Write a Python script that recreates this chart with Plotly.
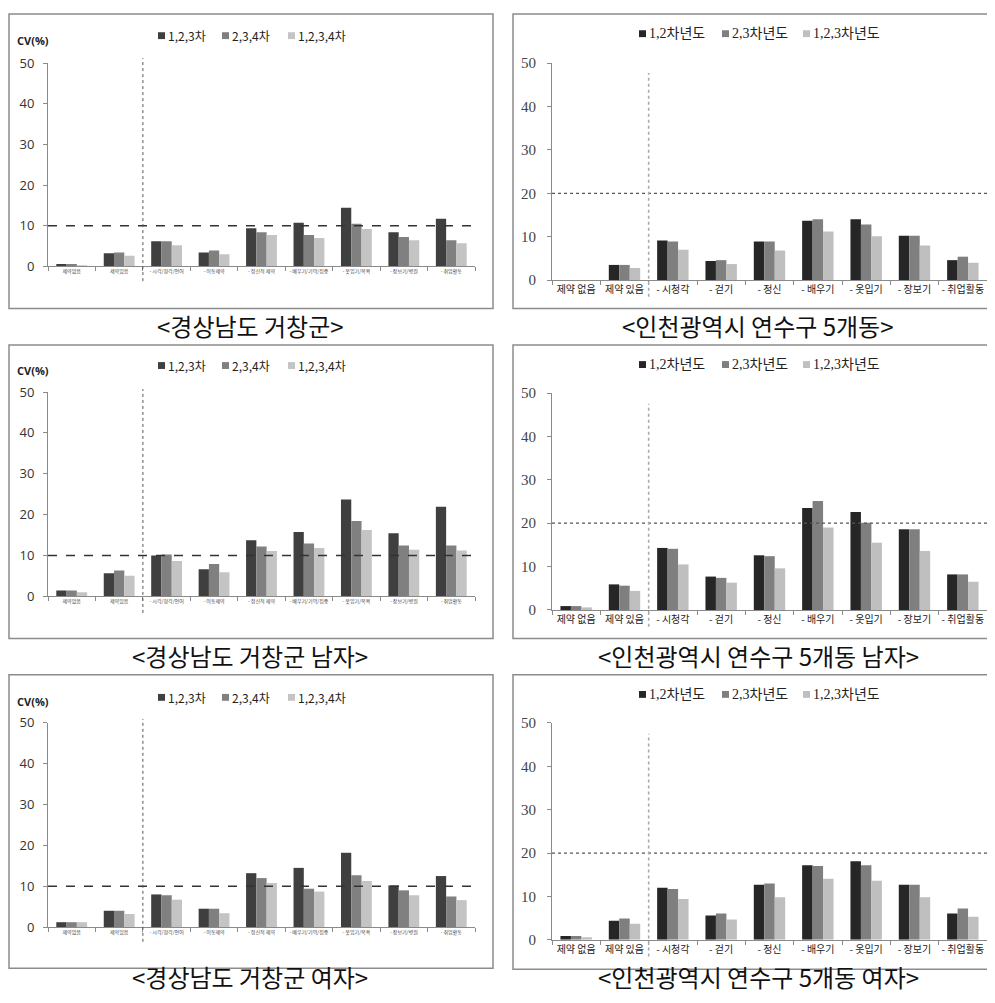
import plotly.graph_objects as go

# page body has an 8px margin: the figure is sized to fit the 995x1003 window
OFF = 8
W, H = 995 - 2 * OFF, 1003 - 2 * OFF

# ---------------- data ----------------
categories_left = ["제약없음", "제약있음", "- 시각/청각/언어", "- 이동제약", "- 정신적 제약",
                   "- 배우기/기억/집중", "- 옷입기/목욕", "- 장보기/병원", "- 취업활동"]
categories_right = ["제약 없음", "제약 있음", "- 시청각", "- 걷기", "- 정신",
                    "- 배우기", "- 옷입기", "- 장보기", "- 취업활동"]
series_left = ["1,2,3차", "2,3,4차", "1,2,3,4차"]
series_right = ["1,2차년도", "2,3차년도", "1,2,3차년도"]

# 경상남도 거창군 (전체)
gc_all_123 = [0.6, 3.2, 6.2, 3.4, 9.4, 10.7, 14.4, 8.4, 11.7]
gc_all_234 = [0.6, 3.4, 6.2, 3.9, 8.4, 7.7, 10.5, 7.2, 6.4]
gc_all_1234 = [0.3, 2.6, 5.2, 3.0, 7.7, 7.0, 9.2, 6.4, 5.7]
# 경상남도 거창군 남자
gc_m_123 = [1.4, 5.6, 10.0, 6.6, 13.7, 15.7, 23.7, 15.4, 21.9]
gc_m_234 = [1.4, 6.3, 10.2, 7.9, 12.2, 12.9, 18.4, 12.4, 12.4]
gc_m_1234 = [1.0, 5.0, 8.6, 5.9, 11.1, 11.8, 16.2, 11.4, 11.2]
# 경상남도 거창군 여자
gc_f_123 = [1.2, 4.0, 8.0, 4.5, 13.2, 14.5, 18.2, 10.2, 12.5]
gc_f_234 = [1.2, 4.0, 7.8, 4.5, 12.0, 9.4, 12.7, 9.0, 7.5]
gc_f_1234 = [1.2, 3.2, 6.7, 3.4, 10.8, 8.7, 11.3, 7.8, 6.6]

# 인천광역시 연수구 5개동 (전체)
ic_all_12 = [0.0, 3.5, 9.1, 4.4, 8.9, 13.7, 14.0, 10.2, 4.6]
ic_all_23 = [0.0, 3.5, 8.9, 4.6, 8.9, 14.0, 12.8, 10.2, 5.4]
ic_all_123 = [0.0, 2.8, 7.0, 3.7, 6.8, 11.2, 10.1, 8.0, 4.0]
# 인천광역시 연수구 5개동 남자
ic_m_12 = [0.9, 5.9, 14.3, 7.7, 12.6, 23.5, 22.6, 18.6, 8.2]
ic_m_23 = [0.9, 5.6, 14.1, 7.4, 12.4, 25.1, 20.1, 18.6, 8.2]
ic_m_123 = [0.6, 4.4, 10.5, 6.3, 9.6, 19.0, 15.5, 13.6, 6.5]
# 인천광역시 연수구 5개동 여자
ic_f_12 = [0.9, 4.4, 12.0, 5.6, 12.7, 17.2, 18.1, 12.7, 6.1]
ic_f_23 = [0.9, 4.9, 11.7, 6.1, 13.0, 17.0, 17.2, 12.7, 7.2]
ic_f_123 = [0.6, 3.7, 9.4, 4.7, 9.8, 14.1, 13.6, 9.8, 5.3]

captions = ["<경상남도 거창군>", "<인천광역시 연수구 5개동>",
            "<경상남도 거창군 남자>", "<인천광역시 연수구 5개동 남자>",
            "<경상남도 거창군 여자>", "<인천광역시 연수구 5개동 여자>"]

# ---------------- layout helpers (window pixel -> paper) ----------------
def px_x(x):
    return (x - OFF) / W

def px_y(y):
    return 1 - (y - OFF) / H

colors_left = ["#3f3f3f", "#808080", "#c4c4c4"]
colors_right = ["#262626", "#7f7f7f", "#bfbfbf"]

panels = [
    dict(side="L", data=[gc_all_123, gc_all_234, gc_all_1234], ax=(48, 475), ay=(262, 55),
         box=(9, 5, 493, 305), cap=322, leg=27, vl=(50, 277), cv=32),
    dict(side="R", data=[ic_all_12, ic_all_23, ic_all_123], ax=(552, 987), ay=(276, 55),
         box=(513, 5, 1000, 305), cap=322, leg=25, vl=(65, 293), cv=None),
    dict(side="L", data=[gc_m_123, gc_m_234, gc_m_1234], ax=(48, 475), ay=(598, 390),
         box=(9, 342, 493, 641), cap=658, leg=363, vl=(387, 615), cv=368),
    dict(side="R", data=[ic_m_12, ic_m_23, ic_m_123], ax=(552, 987), ay=(612, 391),
         box=(513, 342, 1000, 641), cap=658, leg=362, vl=(402, 629), cv=None),
    dict(side="L", data=[gc_f_123, gc_f_234, gc_f_1234], ax=(48, 475), ay=(935, 727),
         box=(9, 678, 493, 977), cap=985, leg=701, vl=(723, 950), cv=705),
    dict(side="R", data=[ic_f_12, ic_f_23, ic_f_123], ax=(552, 987), ay=(948, 727),
         box=(513, 678, 1000, 978), cap=985, leg=698, vl=(738, 965), cv=None),
]

fig = go.Figure()
shapes = []
annotations = []
layout_axes = {}

for i, p in enumerate(panels, start=1):
    left = p["side"] == "L"
    cats = categories_left if left else categories_right
    names = series_left if left else series_right
    cols = colors_left if left else colors_right
    xa = "x" if i == 1 else f"x{i}"
    ya = "y" if i == 1 else f"y{i}"
    for vals, nm, c in zip(p["data"], names, cols):
        fig.add_trace(go.Bar(x=cats, y=vals, name=nm, marker=dict(color=c, line=dict(width=0)),
                             xaxis=xa, yaxis=ya, showlegend=False))
    xkey = "xaxis" if i == 1 else f"xaxis{i}"
    ykey = "yaxis" if i == 1 else f"yaxis{i}"
    layout_axes[xkey] = dict(
        domain=[px_x(p["ax"][0]), min(1.0, px_x(p["ax"][1]))], anchor=ya, type="category",
        range=[-0.5, 8.5], showline=True, linecolor="#8a8a8a", linewidth=1,
        ticks="outside", ticklen=4, tickcolor="#8a8a8a", tickson="boundaries",
        showgrid=False, zeroline=False, tickangle=0,
        tickfont=dict(size=5, color="#444", family="Noto Sans CJK KR") if left
        else dict(size=10, color="#222", family="Noto Sans CJK KR"),
    )
    layout_axes[ykey] = dict(
        domain=[px_y(p["ay"][0]), px_y(p["ay"][1])], anchor=xa, range=[0, 50],
        tickvals=[0, 10, 20, 30, 40, 50], showline=True, linecolor="#8a8a8a", linewidth=1,
        ticks="outside", ticklen=4, tickcolor="#8a8a8a", showgrid=False, zeroline=False,
        ticklabelstandoff=6 if left else 8,
        tickfont=dict(size=13, color="#333", family="Open Sans") if left
        else dict(size=15, color="#444", family="Liberation Serif"),
    )
    # reference dashed line
    ref = 10 if left else 20
    shapes.append(dict(type="line", xref=f"{xa} domain", yref=ya, x0=0, x1=1, y0=ref, y1=ref,
                       line=dict(color="#333" if left else "#555", width=1.5 if left else 1.2,
                                 dash="dash" if left else "3px,3px")))
    # vertical dotted separator
    shapes.append(dict(type="line", xref=xa, yref="paper", x0=1.5, x1=1.5,
                       y0=px_y(p["vl"][1]), y1=px_y(p["vl"][0]),
                       line=dict(color="#555" if left else "#aaa", width=1 if left else 1.6,
                                 dash="dot")))
    # panel box
    bx0, by0, bx1, by1 = p["box"]
    shapes.append(dict(type="rect", xref="paper", yref="paper", x0=px_x(bx0), x1=px_x(bx1),
                       y0=px_y(by1), y1=px_y(by0), line=dict(color="#8c8c8c", width=1.5),
                       fillcolor="rgba(0,0,0,0)"))
    # caption
    cx = 250 if left else 758
    annotations.append(dict(text=captions[i - 1], xref="paper", yref="paper", x=px_x(cx),
                            y=px_y(p["cap"]), showarrow=False, xanchor="center", yanchor="middle",
                            font=dict(size=24, color="#111", family="Noto Sans CJK KR")))
    # legend (manual)
    lx = [158, 222, 288] if left else [639, 722, 803]
    sq = 7
    for x0, nm, c in zip(lx, names, cols):
        shapes.append(dict(type="rect", xref="paper", yref="paper", x0=px_x(x0), x1=px_x(x0 + sq),
                           y0=px_y(p["leg"] + sq / 2), y1=px_y(p["leg"] - sq / 2),
                           fillcolor=c, line=dict(width=0)))
        annotations.append(dict(text=nm, xref="paper", yref="paper", x=px_x(x0 + sq + 1),
                                y=px_y(p["leg"]), showarrow=False, xanchor="left", yanchor="middle",
                                font=dict(size=12, color="#222", family="Noto Sans CJK KR") if left
                                else dict(size=14, color="#222", family="Liberation Serif, Noto Sans CJK KR")))
    if p["cv"] is not None:
        annotations.append(dict(text="<b>CV(%)</b>", xref="paper", yref="paper", x=px_x(15),
                                y=px_y(p["cv"]), showarrow=False, xanchor="left", yanchor="middle",
                                font=dict(size=11, color="#222", family="Open Sans")))

fig.update_layout(
    width=W, height=H, margin=dict(l=0, r=0, t=0, b=0),
    paper_bgcolor="white", plot_bgcolor="rgba(0,0,0,0)",
    barmode="group", bargap=0.35, bargroupgap=0,
    shapes=shapes, annotations=annotations, showlegend=False,
    **layout_axes,
)

fig.write_html("out.html")
